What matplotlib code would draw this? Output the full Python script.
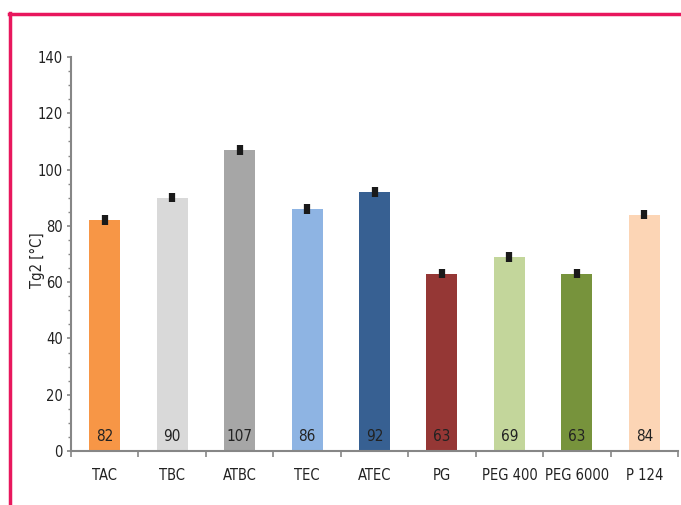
import matplotlib.pyplot as plt
import numpy as np
from matplotlib.lines import Line2D
from matplotlib.ticker import MultipleLocator, FixedLocator

categories = ["TAC", "TBC", "ATBC", "TEC", "ATEC", "PG", "PEG 400", "PEG 6000", "P 124"]
values = [82, 90, 107, 86, 92, 63, 69, 63, 84]
errors = [1.7, 1.7, 1.7, 1.7, 1.7, 1.7, 1.7, 1.7, 1.7]
colors = ["#F79646", "#D9D9D9", "#A6A6A6", "#8EB4E3", "#376092",
          "#953735", "#C3D69B", "#77933C", "#FCD5B5"]

plt.rcParams["font.family"] = ["DejaVu Sans"]
plt.rcParams["font.stretch"] = "condensed"

fig = plt.figure(figsize=(6.81, 5.05), dpi=100)
ax = fig.add_axes([71 / 681, 1 - 451 / 505, 607 / 681, 394 / 505])

x = np.arange(len(categories))
ax.bar(x, values, width=0.46, color=colors, zorder=2)
ax.errorbar(x, values, yerr=errors, fmt="none", ecolor="#1a1a1a",
            elinewidth=4.5, capsize=0, zorder=3)

for xi, v in zip(x, values):
    ax.text(xi, 5, f"{v}", ha="center", va="center", fontsize=11,
            color="#222222", zorder=4)

ax.set_xlim(-0.5, len(categories) - 0.5)
ax.set_ylim(0, 140)
ax.yaxis.set_major_locator(MultipleLocator(20))
ax.yaxis.set_minor_locator(MultipleLocator(5))
ax.set_xticks(x)
ax.set_xticklabels(categories)
ax.xaxis.set_minor_locator(FixedLocator(np.arange(-0.5, len(categories), 1.0)))

gray = "#868686"
for s in ["top", "right"]:
    ax.spines[s].set_visible(False)
for s in ["left", "bottom"]:
    ax.spines[s].set_color(gray)
    ax.spines[s].set_linewidth(1.5)

ax.tick_params(axis="x", which="major", length=0, pad=12, labelsize=10.5, labelcolor="#222222")
ax.tick_params(axis="x", which="minor", length=4, width=1.2, color=gray, direction="out")
ax.tick_params(axis="y", which="major", length=3, width=1.2, color=gray, pad=3,
               labelsize=10.5, labelcolor="#222222")
ax.tick_params(axis="y", which="minor", length=2, width=1.0, color=gray)

ax.set_ylabel("Tg2 [°C]", fontsize=10.5, color="#222222")
ax.yaxis.set_label_coords(-0.043, 0.485)

# pink frame lines
border = "#E8175D"
fig.add_artist(Line2D([9 / 681, 1], [1 - 14 / 505, 1 - 14 / 505],
                      transform=fig.transFigure, color=border, lw=2.5))
fig.add_artist(Line2D([10 / 681, 10 / 681], [0, 1 - 13 / 505],
                      transform=fig.transFigure, color=border, lw=2.5))

fig.savefig("out.png", dpi=100)
